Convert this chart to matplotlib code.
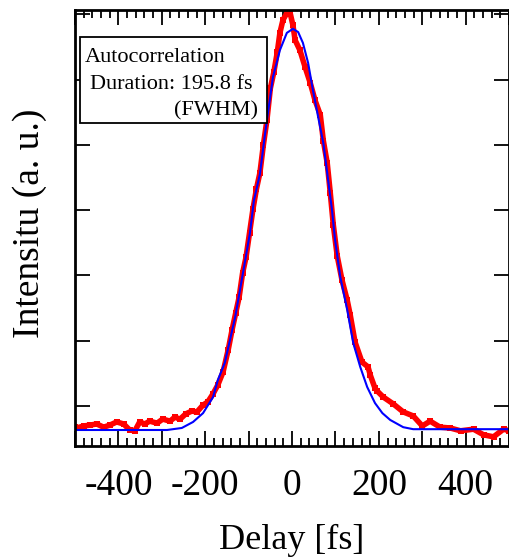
import numpy as np
import matplotlib
matplotlib.use("Agg")
import matplotlib.pyplot as plt
from matplotlib.ticker import MultipleLocator, FuncFormatter

plt.rcParams['font.family'] = ['Liberation Serif', 'DejaVu Serif']
plt.rcParams['axes.unicode_minus'] = False

# measured autocorrelation trace (delay in fs, intensity in a.u.)
delay_meas = [-500, -496, -480, -466, -450, -434, -420, -404, -388, -374, -362,
              -351, -339, -328, -311, -298, -281, -270, -258, -245, -231, -219,
              -205, -194, -182, -171, -159, -147, -138, -130, -122, -114, -106,
              -98, -90, -82, -74, -66, -58, -50, -42, -34, -28, -21, -12, -5,
              2, 7, 18, 30, 42, 53, 65, 72, 81, 88, 95, 104, 115, 127, 134, 145,
              161, 175, 180, 191, 196, 210, 233, 256, 279, 300, 318, 341, 364,
              388, 418, 441, 464, 487, 500]
int_meas = [0.008, 0.005, 0.010, 0.012, 0.015, 0.007, 0.012, 0.020, 0.015, 0.000, -0.002,
            0.020, 0.015, 0.022, 0.017, 0.027, 0.022, 0.032, 0.027, 0.040, 0.047, 0.045,
            0.062, 0.070, 0.090, 0.112, 0.144, 0.20, 0.25, 0.29, 0.33, 0.39, 0.43,
            0.49, 0.55, 0.60, 0.64, 0.71, 0.77, 0.85, 0.89, 0.94, 0.988, 1.02, 1.037, 1.04,
            1.007, 0.97, 0.945, 0.903, 0.863, 0.82, 0.784, 0.72, 0.664, 0.59, 0.51, 0.433, 0.373, 0.323, 0.286, 0.219,
            0.169, 0.157, 0.137, 0.104, 0.097, 0.082, 0.065, 0.045, 0.035, 0.010, 0.022, 0.007, 0.005,
            -0.002, 0.002, -0.012, -0.017, 0.002, -0.002]

# fitted curve
delay_fit = [-500, -288, -254, -228, -205, -182, -171, -155, -131, -113, -97, -88,
             -74, -62, -44, -28, -12, 2, 14, 25, 37, 48, 60, 72, 81, 92, 99, 111,
             127, 141, 157, 173, 191, 208, 226, 256, 279, 500]
int_fit = [0.0, 0.0, 0.005, 0.02, 0.042, 0.082, 0.124, 0.167, 0.281, 0.391, 0.49, 0.57,
           0.637, 0.739, 0.878, 0.945, 0.988, 0.998, 0.99, 0.963, 0.913, 0.846, 0.779, 0.714, 0.639, 0.547, 0.473, 0.381,
           0.299, 0.216, 0.157, 0.107, 0.067, 0.042, 0.025, 0.007, 0.002, 0.002]

fig = plt.figure(figsize=(5.09, 5.57), dpi=100)
ax = fig.add_axes([0.1473, 0.1993, 0.853, 0.7827])

ax.plot(delay_meas, int_meas, color='red', lw=4, marker='s', ms=4,
        mew=0, solid_capstyle='butt')
ax.plot(delay_fit, int_fit, color='blue', lw=1.5)

ax.set_xlim(-500, 500)
ax.set_ylim(-0.0398, 1.0448)

ax.xaxis.set_major_locator(MultipleLocator(100))
ax.xaxis.set_minor_locator(MultipleLocator(20))
ax.xaxis.set_major_formatter(FuncFormatter(lambda v, p: '%d' % v if round(v) % 200 == 0 else ''))
ax.set_yticks(0.0597 + 0.1624 * np.arange(7))
ax.set_yticklabels([])

ax.tick_params(which='both', direction='in', top=True, right=True, width=1.3, colors='black')
ax.tick_params(which='major', length=11, labelsize=27, pad=16)
ax.tick_params(which='minor', length=6)
for s in ax.spines.values():
    s.set_linewidth(2)

ax.set_xlabel('Delay [fs]', fontsize=26)
ax.xaxis.set_label_coords(0.5, -0.178)
ax.set_ylabel('Intensitu (a. u.)', fontsize=27)
ax.yaxis.set_label_coords(-0.064, 0.51)

ax.add_patch(plt.Rectangle((0.0115, 0.741), 0.431, 0.197, transform=ax.transAxes,
                           facecolor='white', edgecolor='black', lw=1.3, zorder=5))
ax.text(0.023, 0.891, 'Autocorrelation', transform=ax.transAxes,
        fontsize=16, va='center', ha='left', zorder=6)
ax.text(0.035, 0.829, 'Duration: 195.8 fs', transform=ax.transAxes,
        fontsize=16, va='center', ha='left', zorder=6)
ax.text(0.422, 0.769, '(FWHM)', transform=ax.transAxes,
        fontsize=16, va='center', ha='right', zorder=6)

fig.savefig('out.png', dpi=100)
